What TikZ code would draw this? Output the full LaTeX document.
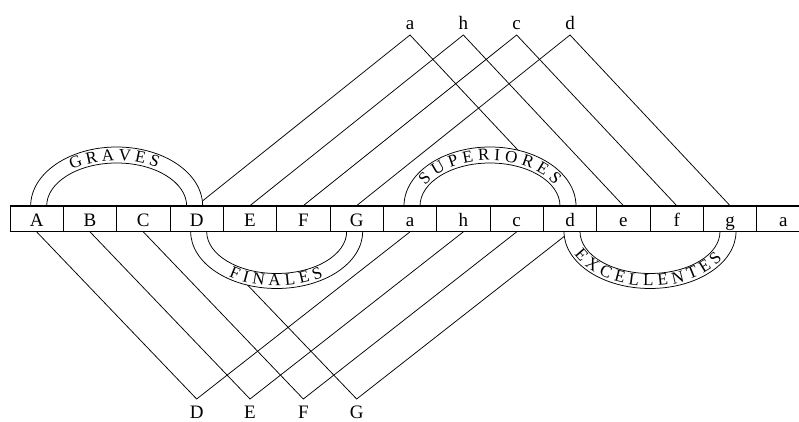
\documentclass[tikz,border=0pt]{standalone}
\usepackage{fontspec}
\setmainfont{Liberation Serif}
\usetikzlibrary{decorations.text}
\newcommand\arcfont{\fontsize{17}{19}\selectfont}
\newcommand\cellfont{\fontsize{19}{21}\selectfont}
\begin{document}
\begin{tikzpicture}[x=1pt,y=1pt,
  line width=0.75pt,
  cell/.style={draw, minimum width=53.333pt, minimum height=25.5pt, inner sep=0pt,
    text height=20.5pt, text depth=5pt, font=\cellfont},
  lab/.style={font=\cellfont, inner sep=0pt, anchor=base},
  band/.style={draw, fill=white},
  arctext/.style={decorate, decoration={text along path, text align={fit to path}, text={#1}}}
]
\path[use as bounding box, clip] (0,0) rectangle (799,422);

% cells
\foreach \l [count=\i from 0] in {A,B,C,D,E,F,G,a,h,c,d,e,f,g,a}
  \node[cell] (c\i) at ({36.667+53.333*\i},203.25) {\l};

% peaks
\coordinate (pa) at (410,387);
\coordinate (ph) at (463.333,387);
\coordinate (pc) at (516.667,387);
\coordinate (pd) at (570,387);
\coordinate (qD) at (196.667,23);
\coordinate (qE) at (250,23);
\coordinate (qF) at (303.333,23);
\coordinate (qG) at (356.667,23);

% labels
\node[lab] (la) at ([yshift=5.7pt]pa) {a};
\node[lab] (lh) at ([yshift=5.7pt]ph) {h};
\node[lab] (lc) at ([yshift=5.7pt]pc) {c};
\node[lab] (ld) at ([yshift=5.7pt]pd) {d};
\node[lab] (lD) at ([yshift=-20pt]qD) {D};
\node[lab] (lE) at ([yshift=-20pt]qE) {E};
\node[lab] (lF) at ([yshift=-20pt]qF) {F};
\node[lab] (lG) at ([yshift=-20pt]qG) {G};

% connectors
\draw (c3.north) -- (pa) -- (c10.north);
\draw (c4.north) -- (ph) -- (c11.north);
\draw (c5.north) -- (pc) -- (c12.north);
\draw (c6.north) -- (pd) -- (c13.north);
\draw (c0.south) -- (qD) -- (c7.south);
\draw (c1.south) -- (qE) -- (c8.south);
\draw (c2.south) -- (qF) -- (c9.south);
\draw (c3.south) -- (qG) -- (c10.south);

% bands
\draw[band] (30.667,216) arc[start angle=180,end angle=0,x radius=86,y radius=59];
\draw (46.667,216) arc[start angle=180,end angle=0,x radius=70,y radius=43];
\draw[band] (404,216) arc[start angle=180,end angle=0,x radius=86,y radius=59];
\draw (420,216) arc[start angle=180,end angle=0,x radius=70,y radius=43];
\draw[band] (190.667,190.5) arc[start angle=180,end angle=360,x radius=86,y radius=57];
\draw (206.667,190.5) arc[start angle=180,end angle=360,x radius=70,y radius=42];
\draw[band] (564,190.5) arc[start angle=180,end angle=360,x radius=86,y radius=57];
\draw (580,190.5) arc[start angle=180,end angle=360,x radius=70,y radius=42];

% texts on bands
\path[arctext={|\arcfont|GRAVES}] ({116.667+72.5*cos(128)},{216+45.5*sin(128)})
  arc[start angle=128,end angle=56,x radius=72.5,y radius=45.5];
\path[arctext={|\arcfont|SUPERIORES}] ({490+72.5*cos(153)},{216+45.5*sin(153)})
  arc[start angle=153,end angle=27,x radius=72.5,y radius=45.5];
\path[arctext={|\arcfont|FINALES}] ({276.667+83.5*cos(235)},{190.5+54.5*sin(235)})
  arc[start angle=235,end angle=304,x radius=83.5,y radius=54.5];
\path[arctext={|\arcfont|EXCELLENTES}] ({650+83.5*cos(205)},{190.5+54.5*sin(205)})
  arc[start angle=205,end angle=330,x radius=83.5,y radius=54.5];

% box edges redrawn over the bands
\draw (c0.north west) -- (c14.north east);
\draw (c0.south west) -- (c14.south east);
\end{tikzpicture}
\end{document}
